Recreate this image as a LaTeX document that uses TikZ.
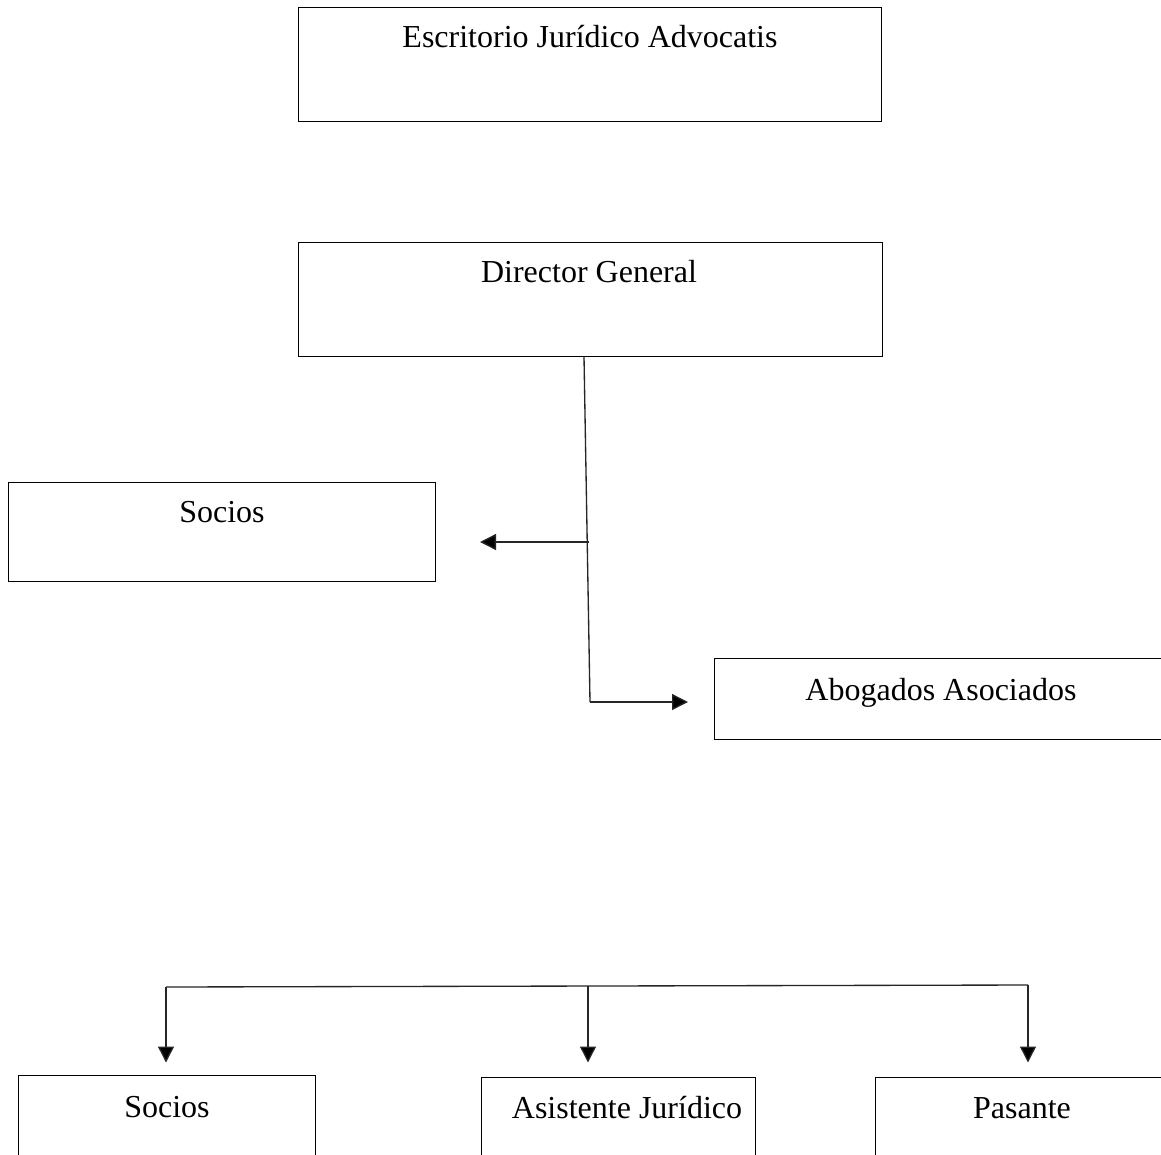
\documentclass[tikz,border=0pt]{standalone}
\usepackage{fontspec}
\setmainfont{Liberation Serif}
\usetikzlibrary{arrows.meta}
\begin{document}
\begin{tikzpicture}[x=0.75pt,y=-0.75pt,
  box/.style={draw=black, line width=0.75pt, rectangle, inner sep=0pt},
  lbl/.style={anchor=base, font=\fontsize{24}{28}\selectfont, inner sep=0pt},
  conn/.style={draw=black!85, line width=1pt},
  arr/.style={conn, -{Triangle[length=12pt,width=12pt,fill=black]}}]
\useasboundingbox (0,0) rectangle (1161,1154);
\clip (0,0) rectangle (1161,1154);
\fill[white] (0,0) rectangle (1161,1154);
% boxes
\node[box, minimum width=437.25pt, minimum height=85.5pt] (esc) at (589.5,64) {};
\node[box, minimum width=438pt, minimum height=85.5pt] (dg) at (590,299) {};
\node[box, minimum width=320.25pt, minimum height=74.25pt] (soc) at (221.5,531.5) {};
\node[box, minimum width=342pt, minimum height=60.75pt] (abo) at (942,698.5) {};
\node[box, minimum width=222.75pt, minimum height=67.5pt] (soc2) at (166.5,1120) {};
\node[box, minimum width=205.5pt, minimum height=66pt] (asi) at (618,1121) {};
\node[box, minimum width=221.25pt, minimum height=66pt] (pas) at (1022.5,1121) {};
% labels
\node[lbl] (tesc) at (590,47) {Escritorio Jurídico Advocatis};
\node[lbl] (tdg) at (589,282) {Director General};
\node[lbl] (tsoc) at (222,522) {Socios};
\node[lbl] (tabo) at (941,700) {Abogados Asociados};
\node[lbl] (tsoc2) at (167,1117) {Socios};
\node[lbl] (tasi) at (627,1118) {Asistente Jurídico};
\node[lbl] (tpas) at (1022,1118) {Pasante};
% connectors
\coordinate (bend) at (590,702);
\coordinate (tipR) at (688,702);
\coordinate (split) at (589,542);
\coordinate (tipL) at (480,542);
\draw[conn] ([xshift=-4.5pt]dg.south) -- (bend);
\draw[arr] (bend) -- (tipR);
\draw[arr] (split) -- (tipL);
\coordinate (hl) at (166,987);
\coordinate (hm) at (588,986);
\coordinate (hr) at (1028,985);
\draw[conn] (hl) -- (hr);
\draw[arr, shorten >=9pt] (hl) -- (hl |- soc2.north);
\draw[arr, shorten >=10.5pt] (hm) -- (hm |- asi.north);
\draw[arr, shorten >=10.5pt] (hr) -- (hr |- pas.north);
\end{tikzpicture}
\end{document}
